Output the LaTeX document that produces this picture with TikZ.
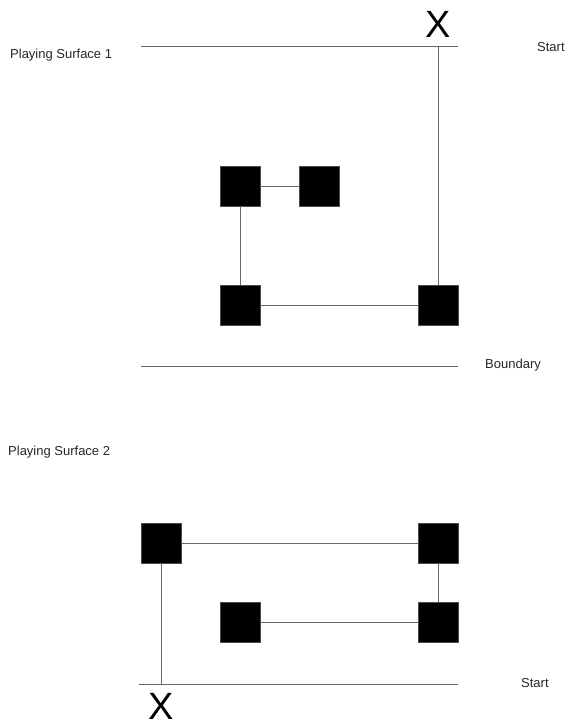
\documentclass[tikz,border=0pt]{standalone}
\usepackage{fontspec}
\setmainfont{Liberation Sans}
\begin{document}
\begin{tikzpicture}[x=1pt,y=-1pt,
  blk/.style={fill=black,draw=black!70,minimum size=40pt,inner sep=0pt,line width=0.6pt},
  ln/.style={draw=black!60,line width=0.9pt},
  lbl/.style={font=\fontsize{13}{15}\selectfont,text=black!85,inner sep=0pt,anchor=west},
  bigx/.style={font=\fontsize{38}{40}\selectfont,inner sep=0pt}]
\useasboundingbox (0,0) rectangle (569,725);
% surface 1
\coordinate (t1l) at (141,46);
\coordinate (t1r) at (458,46);
\coordinate (t1x) at (438,46);
\draw[ln] (t1l) -- (t1r);
\node[bigx] (x1) at (438,24) {X};
\node[lbl] (start1) at (537,47) {Start};
\node[lbl] (ps1) at (10,55) {Playing Surface 1};
\node[blk] (a) at (240,186) {};
\node[blk] (b) at (319,186) {};
\node[blk] (c) at (240,305) {};
\node[blk] (d) at (438,305) {};
\draw[ln] (a) -- (b);
\draw[ln] (a) -- (c);
\draw[ln] (c) -- (d);
\draw[ln] (t1x) -- (d);
\coordinate (bl) at (141,366);
\coordinate (br) at (458,366);
\draw[ln] (bl) -- (br);
\node[lbl] (bound) at (485,365) {Boundary};
% surface 2
\node[lbl] (ps2) at (8,452) {Playing Surface 2};
\node[blk] (e) at (161,543) {};
\node[blk] (f) at (438,543) {};
\node[blk] (g) at (240,622) {};
\node[blk] (h) at (438,622) {};
\draw[ln] (e) -- (f);
\draw[ln] (f) -- (h);
\draw[ln] (g) -- (h);
\coordinate (b2l) at (139,684);
\coordinate (b2r) at (458,684);
\coordinate (b2x) at (161,684);
\draw[ln] (b2l) -- (b2r);
\draw[ln] (e) -- (b2x);
\node[bigx] (x2) at (161,706) {X};
\node[lbl] (start2) at (521,683) {Start};
\end{tikzpicture}
\end{document}
